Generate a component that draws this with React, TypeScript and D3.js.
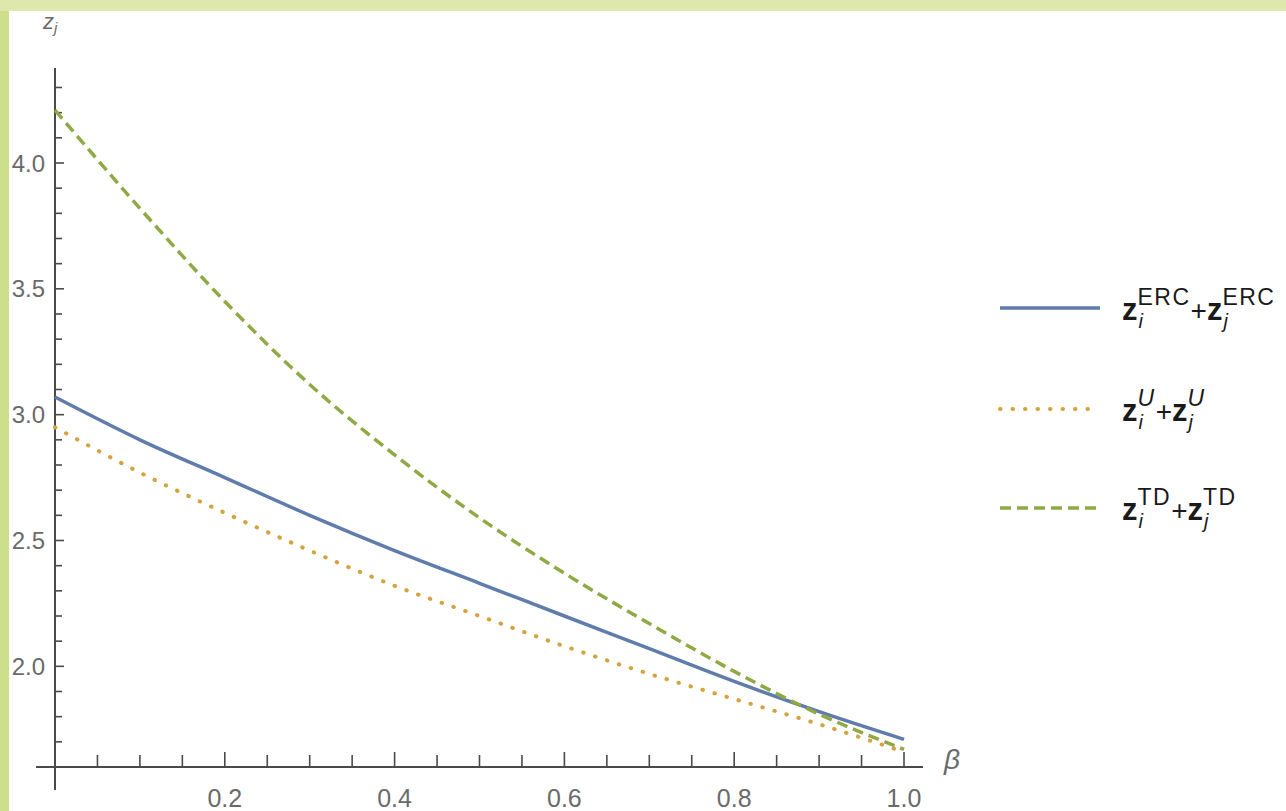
import { useEffect, useRef } from "react";
import * as d3 from "d3";

// beta values, 0..1
const betas = [0, 0.1, 0.2, 0.3, 0.4, 0.5, 0.6, 0.7, 0.8, 0.9, 1.0];
// z_i + z_j for each model
const ercValues = [3.07, 2.9, 2.75, 2.6, 2.46, 2.33, 2.2, 2.07, 1.94, 1.82, 1.71];
const uValues = [2.95, 2.77, 2.61, 2.46, 2.32, 2.2, 2.08, 1.97, 1.87, 1.77, 1.66];
const tdValues = [4.21, 3.82, 3.45, 3.12, 2.84, 2.59, 2.37, 2.17, 1.98, 1.81, 1.67];

const xTickLabels = [0.2, 0.4, 0.6, 0.8, 1.0];
const yTickLabels = [2.0, 2.5, 3.0, 3.5, 4.0];

const legendItems = [
  { sup: "ERC", italic: false, color: "#5f7cab", dash: "", width: 3.5, cap: "butt" },
  { sup: "U", italic: true, color: "#d4a33f", dash: "0.5,12", width: 4, cap: "round" },
  { sup: "TD", italic: false, color: "#8fa944", dash: "11,6", width: 3.5, cap: "butt" },
];

const App = () => {
  const svgRef = useRef<SVGSVGElement>(null);

  useEffect(() => {
    const svg = d3.select(svgRef.current);
    svg.selectAll("*").remove();

    const W = 1286;
    const H = 811;
    const x = d3.scaleLinear().domain([0, 1]).range([55, 904]);
    const y = d3.scaleLinear().domain([1.6, 4.0]).range([767, 163]);
    const axisColor = "#4a4a4a";
    const labelColor = "#6a6a6a";
    const font = "'Liberation Sans', Arial, sans-serif";

    svg.append("rect").attr("width", W).attr("height", H).attr("fill", "#fff");

    // axes, crossing at the origin and running a bit past it
    svg
      .append("line")
      .attr("x1", 36)
      .attr("x2", 923)
      .attr("y1", y(1.6))
      .attr("y2", y(1.6))
      .attr("stroke", axisColor)
      .attr("stroke-width", 2);
    svg
      .append("line")
      .attr("x1", x(0))
      .attr("x2", x(0))
      .attr("y1", 68)
      .attr("y2", 790)
      .attr("stroke", axisColor)
      .attr("stroke-width", 2);

    const isMajor = (arr: number[], d: number) => arr.some((t) => Math.abs(t - d) < 1e-6);

    // x ticks (inward)
    const xMinor = d3.range(0.05, 1.0001, 0.05);
    svg
      .append("g")
      .selectAll("line")
      .data(xMinor)
      .enter()
      .append("line")
      .attr("x1", (d) => x(d))
      .attr("x2", (d) => x(d))
      .attr("y1", y(1.6))
      .attr("y2", (d) => y(1.6) - (isMajor(xTickLabels, d) ? 15 : 12))
      .attr("stroke", axisColor)
      .attr("stroke-width", 1.6);

    svg
      .append("g")
      .selectAll("text")
      .data(xTickLabels)
      .enter()
      .append("text")
      .attr("x", (d) => x(d))
      .attr("y", 807)
      .attr("text-anchor", "middle")
      .attr("font-family", font)
      .attr("font-size", 25)
      .attr("fill", labelColor)
      .text((d) => d.toFixed(1));

    // y ticks (inward)
    const yMinor = d3.range(1.7, 4.3501, 0.1);
    svg
      .append("g")
      .selectAll("line")
      .data(yMinor)
      .enter()
      .append("line")
      .attr("x1", x(0))
      .attr("x2", (d) => x(0) + (isMajor(yTickLabels, d) ? 9 : 7))
      .attr("y1", (d) => y(d))
      .attr("y2", (d) => y(d))
      .attr("stroke", axisColor)
      .attr("stroke-width", 1.6);

    svg
      .append("g")
      .selectAll("text")
      .data(yTickLabels)
      .enter()
      .append("text")
      .attr("x", 45)
      .attr("y", (d) => y(d) + 8.5)
      .attr("text-anchor", "end")
      .attr("font-family", font)
      .attr("font-size", 24)
      .attr("fill", labelColor)
      .text((d) => d.toFixed(1));

    // axis titles
    const zj = svg
      .append("text")
      .attr("x", 43)
      .attr("y", 29)
      .attr("font-family", font)
      .attr("font-style", "italic")
      .attr("font-size", 22)
      .attr("fill", labelColor);
    zj.append("tspan").text("z");
    zj.append("tspan").attr("font-size", 15).attr("dy", 4).text("j");

    svg
      .append("text")
      .attr("x", 944)
      .attr("y", 769)
      .attr("font-family", font)
      .attr("font-style", "italic")
      .attr("font-size", 28)
      .attr("fill", labelColor)
      .text("β");

    // curves
    const series = [ercValues, uValues, tdValues];
    const line = d3
      .line<number>()
      .x((_, i) => x(betas[i]))
      .y((d) => y(d))
      .curve(d3.curveMonotoneX);

    series.forEach((vals, k) => {
      const it = legendItems[k];
      svg
        .append("path")
        .datum(vals)
        .attr("d", line)
        .attr("fill", "none")
        .attr("stroke", it.color)
        .attr("stroke-width", it.width)
        .attr("stroke-dasharray", it.dash || null)
        .attr("stroke-linecap", it.cap);
    });

    // legend
    const legendY = [308, 409, 508];
    legendItems.forEach((it, k) => {
      const ly = legendY[k];
      svg
        .append("line")
        .attr("x1", 1000)
        .attr("x2", 1100)
        .attr("y1", ly)
        .attr("y2", ly)
        .attr("stroke", it.color)
        .attr("stroke-width", it.width)
        .attr("stroke-dasharray", it.dash || null)
        .attr("stroke-linecap", it.cap);

      const base = ly + 12;
      const t = svg
        .append("text")
        .attr("x", 1122)
        .attr("y", base)
        .attr("font-family", font)
        .attr("fill", "#1a1a1a");
      t.append("tspan").attr("font-size", 31).attr("font-weight", "bold").text("z");
      const s1 = t
        .append("tspan")
        .attr("font-size", 23)
        .attr("letter-spacing", 1.5)
        .attr("font-style", it.italic ? "italic" : null)
        .attr("dy", -15)
        .text(it.sup);
      t.append("tspan").attr("font-size", 28).attr("dy", 15).text("+");
      t.append("tspan").attr("font-size", 31).attr("font-weight", "bold").text("z");
      const s2 = t
        .append("tspan")
        .attr("font-size", 23)
        .attr("letter-spacing", 1.5)
        .attr("font-style", it.italic ? "italic" : null)
        .attr("dy", -15)
        .text(it.sup);

      // subscripts below the start of each superscript
      [
        { node: s1.node() as SVGTextContentElement, ch: "i" },
        { node: s2.node() as SVGTextContentElement, ch: "j" },
      ].forEach((s) => {
        const sx = s.node.getStartPositionOfChar(0).x;
        svg
          .append("text")
          .attr("x", sx + 1)
          .attr("y", base + 8)
          .attr("font-family", font)
          .attr("font-style", "italic")
          .attr("font-size", 20)
          .attr("fill", "#1a1a1a")
          .text(s.ch);
      });
    });

    // light green frame bands on top and left
    svg.append("rect").attr("x", 0).attr("y", 0).attr("width", 9).attr("height", H).attr("fill", "#cedf8b");
    svg.append("rect").attr("x", 0).attr("y", 0).attr("width", W).attr("height", 11).attr("fill", "#dfe8ac");
  }, []);

  return (
    <svg
      ref={svgRef}
      width={1286}
      height={811}
      style={{ position: "absolute", left: 0, top: 0, display: "block" }}
    />
  );
};

export default App;
